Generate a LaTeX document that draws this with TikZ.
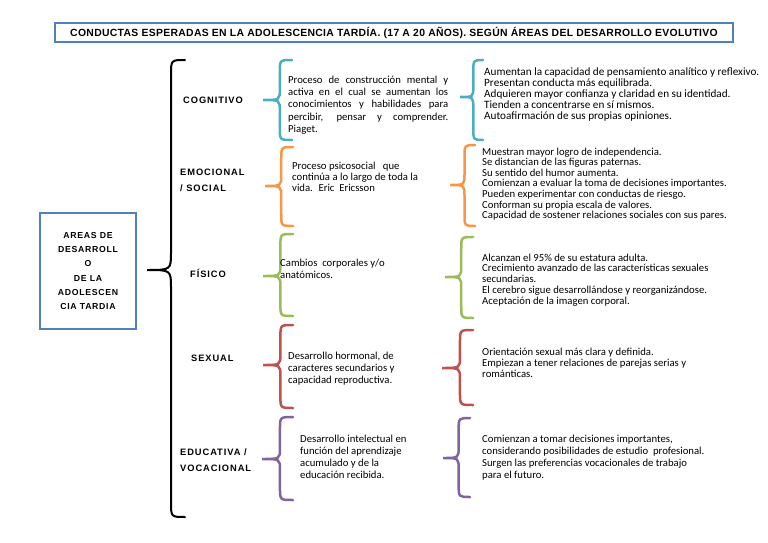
\documentclass[tikz,border=0pt]{standalone}
\usepackage{fontspec}
\setmainfont{Carlito}
\newfontfamily\headfont[LetterSpace=3]{Liberation Sans}
\newfontfamily\labelfont[LetterSpace=10]{Liberation Sans}
\newfontfamily\boxfont[LetterSpace=8]{Liberation Sans}
\definecolor{boxblue}{HTML}{4F81BD}
\definecolor{cogblue}{HTML}{4BACC6}
\definecolor{emoorange}{HTML}{F79646}
\definecolor{fisgreen}{HTML}{9BBB59}
\definecolor{sexred}{HTML}{C0504D}
\definecolor{edupurple}{HTML}{8064A2}
\usetikzlibrary{positioning}

\begin{document}
\begin{tikzpicture}[
  x=1pt,
  y=-1pt,
  titlebox/.style={
    draw=boxblue,
    line width=1.5pt,
    minimum width=678pt,
    minimum height=19pt,
    inner sep=0pt,
    font=\headfont\bfseries\fontsize{10.4}{11}\selectfont
  },
  areabox/.style={
    draw=boxblue,
    line width=2pt,
    minimum width=96pt,
    minimum height=116pt,
    inner sep=0pt,
    align=center,
    font=\boxfont\bfseries\fontsize{8.7}{14.2}\selectfont
  },
  arealabel/.style={
    anchor=west,
    inner sep=0pt,
    align=left,
    font=\labelfont\bfseries\fontsize{9.3}{16}\selectfont
  },
  process/.style={
    anchor=north west,
    inner sep=0pt,
    align=left,
    font=\fontsize{10.7}{12.2}\selectfont
  },
  conduct/.style={
    anchor=north west,
    inner sep=0pt,
    align=left,
    font=\fontsize{10.7}{11}\selectfont
  },
  curly/.style={line width=2.5pt,line cap=round}
]
\useasboundingbox (0,0) rectangle (768,543);

% Title
\node[titlebox] (titulo) at (394,32.5)
  {CONDUCTAS ESPERADAS EN LA ADOLESCENCIA TARDÍA. (17 A 20 AÑOS). SEGÚN ÁREAS DEL DESARROLLO EVOLUTIVO};

% Main box
\node[areabox] (areas) at (88,271)
  {AREAS DE\\DESARROLL\\O\\DE LA\\ADOLESCEN\\CIA TARDIA};

% Big brace
\draw[curly,line width=2pt,black]
  (185,60) .. controls (171,60) .. (171,75) -- (171,252)
  .. controls (171,270) .. (147,270)
  .. controls (171,270) .. (171,288) -- (171,502)
  .. controls (171,517) .. (185,517);

% Coloured braces: colour / end x / tip x / top / tip / bottom
\foreach \c/\xe/\xt/\yt/\ym/\yb in {
    cogblue/292/263/60/100/140, emoorange/293/265/147/186/226,
    fisgreen/293/263/234/276/316, sexred/293/263/325/365/408,
    edupurple/293/262/417/459/500,
    cogblue/483/460/60/97/140, emoorange/475/450/145/185/226,
    fisgreen/473/445/237/277/318, sexred/473/442/330/368/405,
    edupurple/470/443/418/458/497}
{
  \pgfmathsetmacro{\xv}{\xt+0.58*(\xe-\xt)}
  \draw[curly,draw=\c]
    (\xe,\yt) .. controls (\xv,\yt) .. (\xv,\yt+12) -- (\xv,\ym-11)
    .. controls (\xv,\ym) .. (\xt,\ym)
    .. controls (\xv,\ym) .. (\xv,\ym+11) -- (\xv,\yb-12)
    .. controls (\xv,\yb) .. (\xe,\yb);
}

% Areas
\node[arealabel] (cog) at (183,100) {COGNITIVO};
\node[arealabel] (emo) at (180,180) {EMOCIONAL\\/ SOCIAL};
\node[arealabel] (fis) at (190,273) {FÍSICO};
\node[arealabel] (sex) at (191,358) {SEXUAL};
\node[arealabel] (edu) at (180,460) {EDUCATIVA /\\VOCACIONAL};

% Processes
\node[process,text width=160pt,align=justify,font=\fontsize{10.7}{12.3}\selectfont]
  (cogproc) at (288,75.5)
  {Proceso de construcción mental y\linebreak
   activa en el cual se aumentan los\linebreak
   conocimientos y habilidades para\linebreak
   percibir, pensar y comprender.\linebreak
   Piaget.};
\node[process,font=\fontsize{10.7}{11}\selectfont] (emoproc) at (292,161.5)
  {Proceso psicosocial \ \ que\\continúa a lo largo de toda la\\vida. \ Eric \ Ericsson};
\node[process] (fisproc) at (280,258.5)
  {Cambios \ corporales y/o\\anatómicos.};
\node[process,font=\fontsize{10.7}{12.4}\selectfont] (sexproc) at (288,351.5)
  {Desarrollo hormonal, de\\caracteres secundarios y\\capacidad reproductiva.};
\node[process] (eduproc) at (300,434.5)
  {Desarrollo intelectual en\\función del aprendizaje\\acumulado y de la\\educación recibida.};

% Conducts
\node[conduct,font=\fontsize{11.2}{11}\selectfont] (cogcond) at (484,68)
  {Aumentan la capacidad de pensamiento analítico y reflexivo.\\
   Presentan conducta más equilibrada.\\
   Adquieren mayor confianza y claridad en su identidad.\\
   Tienden a concentrarse en sí mismos.\\
   Autoafirmación de sus propias opiniones.};
\node[conduct,font=\fontsize{10.7}{10.6}\selectfont] (emocond) at (482,147.5)
  {Muestran mayor logro de independencia.\\
   Se distancian de las figuras paternas.\\
   Su sentido del humor aumenta.\\
   Comienzan a evaluar la toma de decisiones importantes.\\
   Pueden experimentar con conductas de riesgo.\\
   Conforman su propia escala de valores.\\
   Capacidad de sostener relaciones sociales con sus pares.};
\node[conduct,font=\fontsize{10.7}{10.8}\selectfont] (fiscond) at (482,253.5)
  {Alcanzan el 95\% de su estatura adulta.\\
   Crecimiento avanzado de las características sexuales\\
   secundarias.\\
   El cerebro sigue desarrollándose y reorganizándose.\\
   Aceptación de la imagen corporal.};
\node[conduct] (sexcond) at (482,347.5)
  {Orientación sexual más clara y definida.\\
   Empiezan a tener relaciones de parejas serias y\\
   románticas.};
\node[conduct,font=\fontsize{10.7}{12}\selectfont] (educond) at (482,434.5)
  {Comienzan a tomar decisiones importantes,\\
   considerando posibilidades de estudio \ profesional.\\
   Surgen las preferencias vocacionales de trabajo\\
   para el futuro.};
\end{tikzpicture}
\end{document}
